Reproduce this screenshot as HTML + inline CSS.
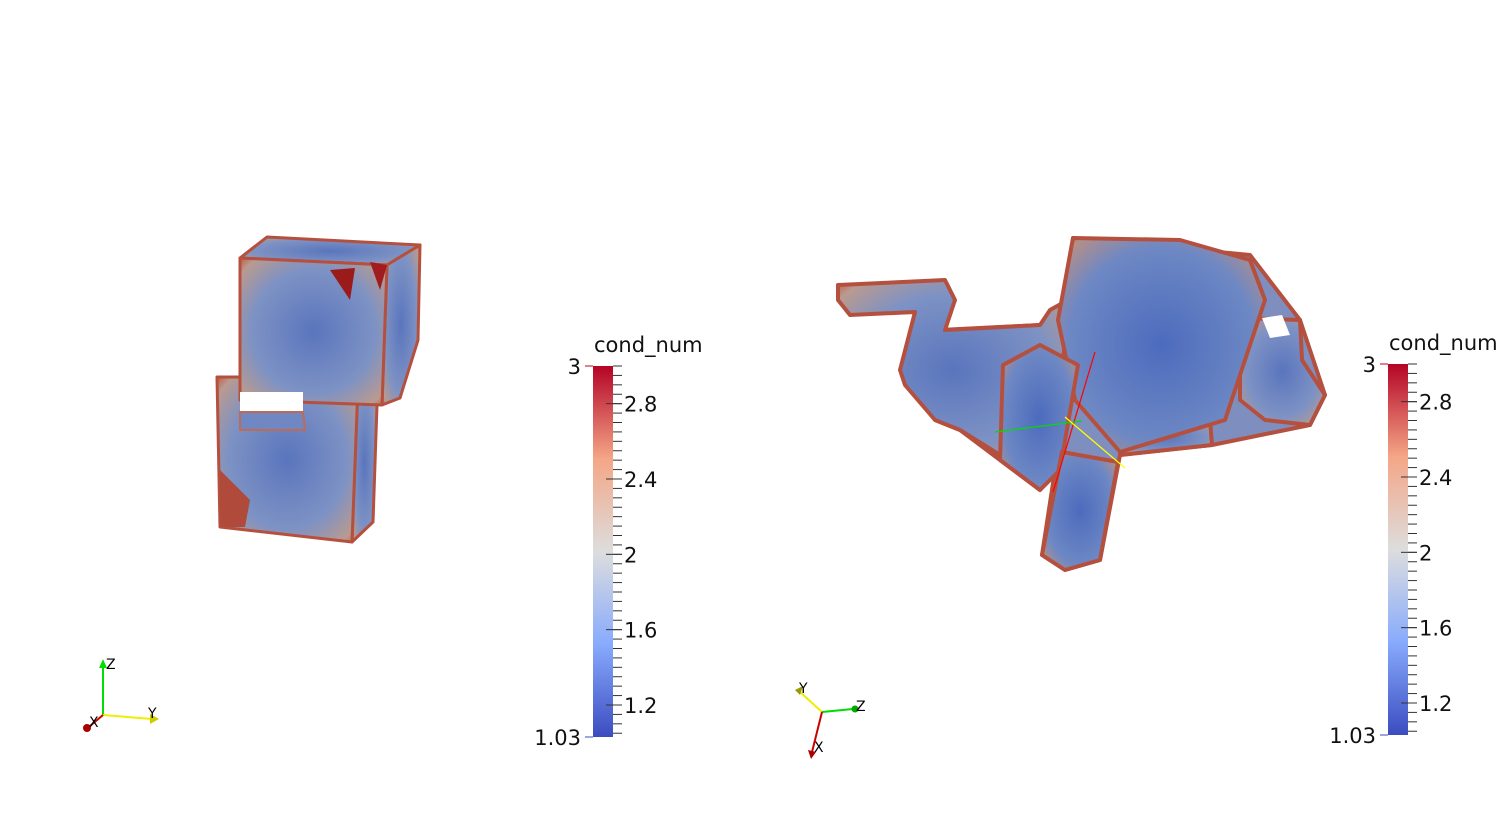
<!DOCTYPE html>
<html><head><meta charset="utf-8"><style>
html,body{margin:0;padding:0;background:#fff;width:1503px;height:816px;overflow:hidden}
svg{display:block;font-family:"DejaVu Sans","Liberation Sans",sans-serif}
</style></head><body>
<svg id="s" width="1503" height="816" viewBox="0 0 1503 816">
<defs>
<linearGradient id="cb" x1="0" y1="1" x2="0" y2="0">
<stop offset="0" stop-color="#3b4cc0"/><stop offset="0.25" stop-color="#88abfd"/>
<stop offset="0.5" stop-color="#dddddd"/><stop offset="0.75" stop-color="#f4a687"/>
<stop offset="1" stop-color="#b40426"/></linearGradient>
<radialGradient id="face" cx="0.5" cy="0.5" r="0.7">
<stop offset="0" stop-color="#5a75bd"/><stop offset="0.6" stop-color="#7d92c4"/><stop offset="0.9" stop-color="#b99a90"/><stop offset="1" stop-color="#c0604a"/></radialGradient>
<radialGradient id="face2" cx="0.5" cy="0.5" r="0.7">
<stop offset="0" stop-color="#4c6bbd"/><stop offset="0.65" stop-color="#6e88c4"/><stop offset="0.9" stop-color="#b48f88"/><stop offset="1" stop-color="#b8443a"/></radialGradient>
</defs>

<g stroke="#b5503f" stroke-width="3" stroke-linejoin="round">
<polygon points="240,258 267,237 420,245 387,265" fill="url(#face)"/>
<polygon points="387,265 420,245 418,340 400,398 382,405" fill="url(#face)"/>
<polygon points="358,385 377,405 373,522 352,542" fill="url(#face)"/>
<polygon points="217,377 240,377 240,400 358,385 352,542 220,527" fill="url(#face)"/>
<polygon points="240,258 387,265 382,405 240,400" fill="url(#face)"/>
<polygon points="240,392 303,392 303,412 240,412" fill="#ffffff" stroke="none"/>
<polygon points="240,412 303,412 305,430 240,430" fill="#6f87c3" stroke="#c06a55" stroke-width="2"/>
<polygon points="220,470 250,500 245,527 220,527" fill="#b04a3a" stroke="none"/>
<polygon points="330,270 355,268 350,300" fill="#9b1b1b" stroke="none"/>
<polygon points="370,262 387,265 380,290" fill="#a01c1f" stroke="none"/>
</g>

<g stroke="#b5503f" stroke-width="4" stroke-linejoin="round">
<polygon points="940,330 1040,325 1068,300 1073,238 1250,255 1300,320 1325,395 1310,425 1212,445 1120,455 1100,560 1065,570 1042,555 1055,470 1040,490 1000,460 960,430 935,420" fill="#7e8fbf"/>
<polygon points="838,285 945,280 955,300 945,330 1040,325 1050,310 1068,300 1060,400 1040,460 1000,455 960,430 935,420 905,385 900,370 915,312 850,315 838,300" fill="url(#face)"/>
<polygon points="1240,318 1300,320 1302,360 1325,395 1310,425 1265,420 1240,400" fill="url(#face)"/>
<polygon points="1262,318 1282,315 1290,335 1270,338" fill="#ffffff" stroke="none"/>
<polygon points="1120,425 1210,420 1212,445 1120,455" fill="url(#face)"/>
<polygon points="1073,238 1180,240 1250,260 1265,300 1225,420 1120,452 1075,400 1058,320" fill="url(#face2)"/>
<polygon points="1003,365 1040,345 1078,365 1060,470 1040,490 1000,460" fill="url(#face2)"/>
<polygon points="1062,452 1118,462 1100,560 1065,570 1042,555" fill="url(#face2)"/>
</g>
<line x1="1095" y1="352" x2="1053" y2="492" stroke="#ff0000" stroke-width="1.2"/>
<line x1="995" y1="432" x2="1082" y2="421" stroke="#00dd00" stroke-width="1.2"/>
<line x1="1065" y1="417" x2="1125" y2="468" stroke="#ffff00" stroke-width="1.2"/>

<g font-size="14">
<line x1="103" y1="715" x2="103" y2="665" stroke="#00dd00" stroke-width="2"/>
<polygon points="99,668 107,668 103,659" fill="#00dd00"/>
<line x1="103" y1="715" x2="152" y2="719" stroke="#eeee00" stroke-width="2"/>
<polygon points="150,714 150,724 159,719" fill="#cccc00"/>
<line x1="103" y1="715" x2="90" y2="726" stroke="#cc0000" stroke-width="2"/>
<circle cx="87" cy="728" r="4" fill="#aa0000"/>
<text x="106" y="669">Z</text><text x="148" y="718">Y</text><text x="89" y="727">X</text>
</g>
<g font-size="14">
<line x1="822" y1="712" x2="800" y2="692" stroke="#eeee00" stroke-width="2"/>
<polygon points="795,690 803,686 800,695" fill="#999900"/>
<line x1="822" y1="712" x2="853" y2="709" stroke="#00dd00" stroke-width="2"/>
<circle cx="855" cy="709" r="3.5" fill="#00aa00"/>
<line x1="822" y1="712" x2="812" y2="752" stroke="#cc0000" stroke-width="2"/>
<polygon points="808,750 816,752 811,759" fill="#aa0000"/>
<text x="799" y="693">Y</text><text x="856" y="711">Z</text><text x="814" y="752">X</text>
</g>
<g id="bars"></g>
</svg>
<script>
const tickValues=[3,2.8,2.4,2,1.6,1.2,1.03];
const tickLabels=["3","2.8","2.4","2","1.6","1.2","1.03"];
const minV=1.03, maxV=3;
const bars=[{x:593,top:366,bot:737,name:'left'},{x:1388,top:364,bot:735,name:'right'}];
const ns='http://www.w3.org/2000/svg';
const g=document.getElementById('bars');
function mk(t,a){const e=document.createElementNS(ns,t);for(const k in a)e.setAttribute(k,a[k]);return e;}
bars.forEach(b=>{
  const grp=mk('g',{});
  
  
  const y=v=>b.bot-(v-minV)/(maxV-minV)*(b.bot-b.top);
  const r=mk('rect',{x:b.x,y:b.top,width:20,height:b.bot-b.top,fill:'url(#cb)'});
  
  
  grp.appendChild(r);
  for(let v=1.05;v<3;v+=0.05){grp.appendChild(mk('line',{x1:b.x+20,x2:b.x+29,y1:y(v),y2:y(v),stroke:'#333','stroke-width':1}));}
  const t=mk('text',{x:b.x+1,y:b.top-14,'font-size':21,fill:'#111'});t.textContent='cond_num';
  
  
  grp.appendChild(t);
  tickValues.forEach((v,i)=>{
    const yy=y(v);
    const end=(i===0||i===tickValues.length-1);
    const lab=mk('text',{'font-size':21,fill:'#111'});
    
    
    if(end){
      grp.appendChild(mk('line',{x1:b.x-8,x2:b.x,y1:yy,y2:yy,stroke:i===0?'#b40426':'#3b4cc0','stroke-width':1}));
      lab.setAttribute('x',b.x-12);lab.setAttribute('y',yy+8);lab.setAttribute('text-anchor','end');
    } else {
      grp.appendChild(mk('line',{x1:b.x+13,x2:b.x+29,y1:yy,y2:yy,stroke:'#333','stroke-width':1}));
      lab.setAttribute('x',b.x+31);lab.setAttribute('y',yy+8);
    }
    lab.textContent=tickLabels[i];
    grp.appendChild(lab);
  });
  g.appendChild(grp);
});
</script>
</body></html>
